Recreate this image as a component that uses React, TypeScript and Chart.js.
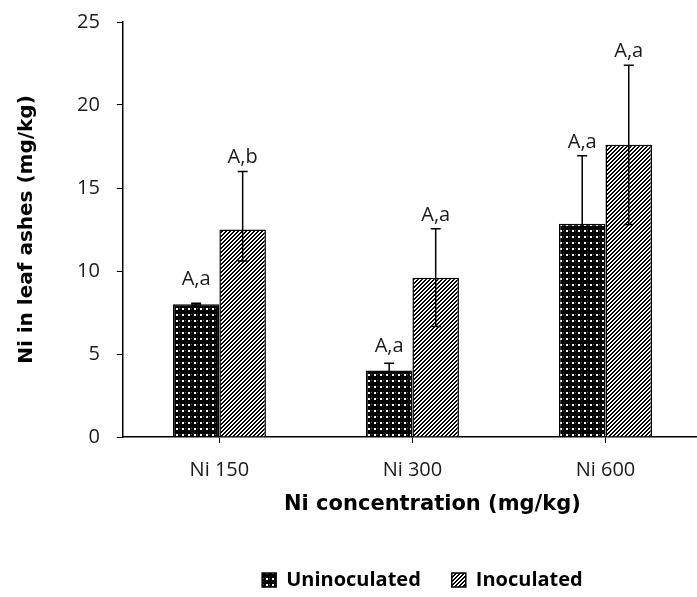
import React, { useEffect, useRef } from "react";
import { Chart, registerables } from "chart.js";

Chart.register(...registerables);

// ---- data ----
const categories = ["Ni 150", "Ni 300", "Ni 600"];
const seriesNames = ["Uninoculated", "Inoculated"];
const uninoculated = [8.0, 4.0, 12.85];
const inoculated = [12.5, 9.6, 17.6];
const uninoculatedErrPlus = [0.05, 0.45, 4.1];
const uninoculatedErrMinus = [0.05, 0.45, 4.1];
const inoculatedErrPlus = [3.5, 2.95, 4.8];
const inoculatedErrMinus = [1.9, 2.95, 4.8];
const uninoculatedLetters = ["A,a", "A,a", "A,a"];
const inoculatedLetters = ["A,b", "A,a", "A,a"];
const yTicks = [0, 5, 10, 15, 20, 25];
const yTitle = "Ni in leaf ashes (mg/kg)";
const xTitle = "Ni concentration (mg/kg)";

const FONT = "'Open Sans', sans-serif";
const TITLE_FONT = "'DejaVu Sans', sans-serif";
const LEGEND_SHIFT = 10;
const TITLE_SHIFT = 20;

function makeDotPattern(): CanvasPattern | string {
  const c = document.createElement("canvas");
  c.width = 6;
  c.height = 6;
  const g = c.getContext("2d");
  if (!g) return "#000";
  g.fillStyle = "#000";
  g.fillRect(0, 0, 6, 6);
  g.fillStyle = "#fff";
  g.fillRect(2, 2, 2, 2);
  g.fillStyle = "#5a5a5a";
  g.fillRect(5, 2, 1, 1);
  return g.createPattern(c, "repeat") || "#000";
}

function makeStripePattern(): CanvasPattern | string {
  const n = 4;
  const c = document.createElement("canvas");
  c.width = n;
  c.height = n;
  const g = c.getContext("2d");
  if (!g) return "#888";
  const img = g.createImageData(n, n);
  for (let y = 0; y < n; y++) {
    for (let x = 0; x < n; x++) {
      const k = (x + y) % n;
      const v = k < 2 ? 0 : 255;
      const i = (y * n + x) * 4;
      img.data[i] = v;
      img.data[i + 1] = v;
      img.data[i + 2] = v;
      img.data[i + 3] = 255;
    }
  }
  g.putImageData(img, 0, 0);
  return g.createPattern(c, "repeat") || "#888";
}

const errPlusByDataset = [uninoculatedErrPlus, inoculatedErrPlus];
const errMinusByDataset = [uninoculatedErrMinus, inoculatedErrMinus];
const lettersByDataset = [uninoculatedLetters, inoculatedLetters];

const errorBarsPlugin = {
  id: "errorBars",
  afterDatasetsDraw(chart: any) {
    const { ctx } = chart;
    const yScale = chart.scales.y;
    ctx.save();
    ctx.strokeStyle = "#000";
    ctx.lineWidth = 1.5;
    chart.data.datasets.forEach((ds: any, di: number) => {
      const meta = chart.getDatasetMeta(di);
      meta.data.forEach((bar: any, j: number) => {
        const v = ds.data[j];
        const x = bar.x;
        const yt = yScale.getPixelForValue(v + errPlusByDataset[di][j]);
        const yb = yScale.getPixelForValue(v - errMinusByDataset[di][j]);
        const half = 5;
        ctx.beginPath();
        ctx.moveTo(x, yt);
        ctx.lineTo(x, yb);
        ctx.moveTo(x - half, yt);
        ctx.lineTo(x + half, yt);
        ctx.moveTo(x - half, yb);
        ctx.lineTo(x + half, yb);
        ctx.stroke();
      });
    });
    ctx.restore();
  },
};

const lettersPlugin = {
  id: "letters",
  afterDatasetsDraw(chart: any) {
    const { ctx } = chart;
    const yScale = chart.scales.y;
    ctx.save();
    ctx.fillStyle = "#1a1a1a";
    ctx.font = `20px ${FONT}`;
    ctx.textAlign = "center";
    ctx.textBaseline = "alphabetic";
    chart.data.datasets.forEach((ds: any, di: number) => {
      const meta = chart.getDatasetMeta(di);
      meta.data.forEach((bar: any, j: number) => {
        const v = ds.data[j];
        const barTop = yScale.getPixelForValue(v);
        const errTop = yScale.getPixelForValue(v + errPlusByDataset[di][j]);
        const y = Math.min(barTop - 19, errTop - 8);
        ctx.fillText(lettersByDataset[di][j], bar.x, y);
      });
    });
    ctx.restore();
  },
};

const xTitlePlugin = {
  id: "xTitle",
  afterLayout(chart: any) {
    if (chart.legend) {
      chart.legend.left += LEGEND_SHIFT;
      chart.legend.right += LEGEND_SHIFT;
    }
  },
  afterDraw(chart: any) {
    const { ctx, chartArea } = chart;
    ctx.save();
    ctx.fillStyle = "#000";
    ctx.font = `bold 21px ${TITLE_FONT}`;
    ctx.textAlign = "center";
    ctx.textBaseline = "middle";
    ctx.fillText(xTitle, (chartArea.left + chartArea.right) / 2 + TITLE_SHIFT, chartArea.bottom + 68);
    ctx.restore();
  },
};

export default function App() {
  const ref = useRef<HTMLCanvasElement | null>(null);

  useEffect(() => {
    const canvas = ref.current;
    if (!canvas) return;
    const dot = makeDotPattern();
    const stripe = makeStripePattern();
    const chart = new Chart(canvas, {
      type: "bar",
      data: {
        labels: categories,
        datasets: [
          {
            label: seriesNames[0],
            data: uninoculated,
            backgroundColor: dot as any,
            borderColor: "#000",
            borderWidth: 1.5,
          },
          {
            label: seriesNames[1],
            data: inoculated,
            backgroundColor: stripe as any,
            borderColor: "#000",
            borderWidth: 1.5,
          },
        ],
      },
      options: {
        responsive: false,
        animation: false,
        layout: { padding: { top: 6, right: 1, left: 0, bottom: 5 } },
        datasets: { bar: { categoryPercentage: 0.482, barPercentage: 1 } },
        scales: {
          x: {
            grid: {
              display: true,
              drawOnChartArea: false,
              drawTicks: true,
              tickLength: 6,
              color: "#000",
              offset: false,
            },
            border: { display: true, color: "#000", width: 1.5 },
            ticks: { color: "#1a1a1a", font: { family: FONT, size: 20 }, padding: 15 },
            afterFit: (scale: any) => {
              scale.height += 42;
            },
          },
          y: {
            min: 0,
            max: 25,
            afterBuildTicks: (axis: any) => {
              axis.ticks = yTicks.map((v) => ({ value: v }));
            },
            grid: {
              drawOnChartArea: false,
              drawTicks: true,
              tickLength: 6,
              color: "#000",
            },
            border: { display: true, color: "#000", width: 1.5 },
            ticks: {
              color: "#1a1a1a",
              font: { family: FONT, size: 20, lineHeight: 0.5 },
              padding: 17,
            },
            title: {
              display: true,
              text: yTitle,
              color: "#000",
              font: { family: TITLE_FONT, size: 20, weight: "bold" },
              padding: { top: 15, bottom: 21 },
            },
          },
        },
        plugins: {
          legend: {
            position: "bottom",
            fullSize: false,
            labels: {
              boxWidth: 14,
              boxHeight: 14,
              padding: 31,
              color: "#000",
              font: { family: FONT, size: 20, weight: "bold" },
            },
          },
          tooltip: { enabled: false },
        },
      } as any,
      plugins: [errorBarsPlugin, lettersPlugin, xTitlePlugin],
    });
    return () => chart.destroy();
  }, []);

  return (
    <div
      style={{
        position: "absolute",
        left: 0,
        top: 0,
        width: 697,
        height: 597,
        overflow: "hidden",
        background: "#fff",
      }}
    >
      <canvas ref={ref} width={703} height={605} style={{ display: "block", width: 703, height: 605 }} />
    </div>
  );
}
